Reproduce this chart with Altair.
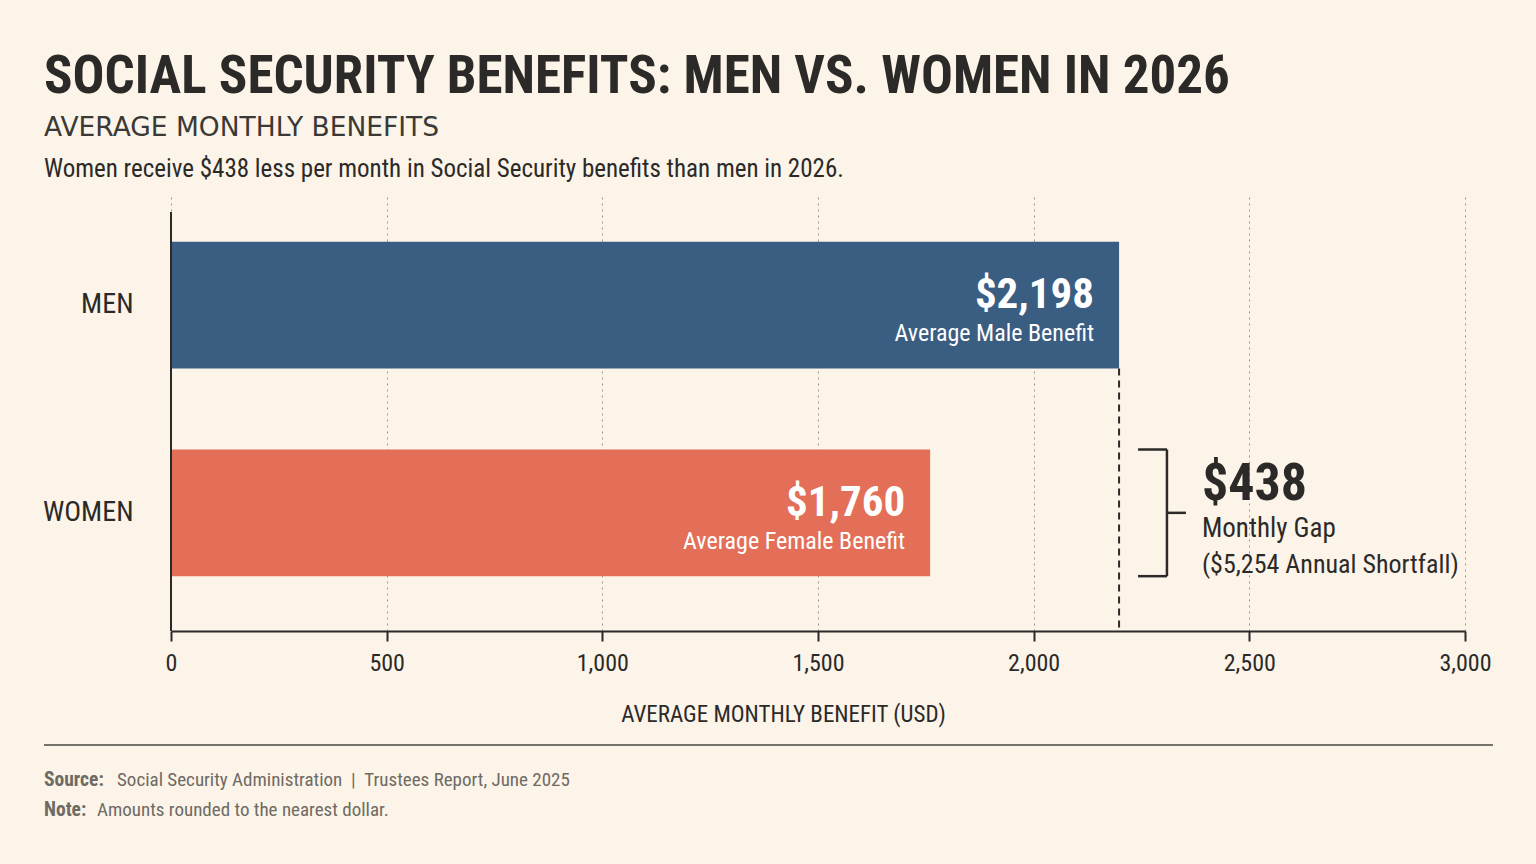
import altair as alt
import pandas as pd

# ---- data ----
categories = ["MEN", "WOMEN"]
values = [2198, 1760]
value_labels = ["$2,198", "$1,760"]
sub_labels = ["Average Male Benefit", "Average Female Benefit"]
bar_colors = ["#3a5d82", "#e36f58"]
x_ticks = [0, 500, 1000, 1500, 2000, 2500, 3000]

gap_value = "$438"
gap_line1 = "Monthly Gap"
gap_line2 = "($5,254 Annual Shortfall)"

title_text = "SOCIAL SECURITY BENEFITS: MEN VS. WOMEN IN 2026"
subtitle_text = "AVERAGE MONTHLY BENEFITS"
desc_text = "Women receive $438 less per month in Social Security benefits than men in 2026."
source_lbl = "Source:"
source_txt = "Social Security Administration\u00a0\u00a0|\u00a0\u00a0Trustees Report, June 2025"
note_lbl = "Note:"
note_txt = "Amounts rounded to the nearest dollar."

# ---- style ----
FONT = "Liberation Sans Narrow, Roboto Condensed, DejaVu Sans Condensed, sans-serif"
BG = "#fcf4e8"
DARK = "#2b2a28"
GREY = "#6e6a64"
W, H = 1294, 434
LEFT, TOP = 171, 197

df = pd.DataFrame({
    "cat": categories,
    "val": values,
    "vlabel": value_labels,
    "slabel": sub_labels,
    "color": bar_colors,
})

x_scale = alt.Scale(domain=[0, 3000], nice=False)
y_scale = alt.Scale(domain=categories, paddingInner=0.39, paddingOuter=0.24, align=0.45)

base = alt.Chart(df)

bars = base.mark_bar().encode(
    x=alt.X("val:Q", scale=x_scale,
            axis=alt.Axis(values=x_ticks, format=",d", grid=True, gridDash=[2, 4],
                          gridColor="#9c968c", gridWidth=1, domainColor=DARK, domainWidth=2,
                          tickColor=DARK, tickWidth=2, tickSize=10, labelPadding=10,
                          labelFontSize=24, labelColor=DARK, labelFont=FONT,
                          title="AVERAGE MONTHLY BENEFIT (USD)", titleFont=FONT,
                          titleFontSize=23, titleFontWeight="normal", titleColor=DARK,
                          titleX=612, titleY=72, titleBaseline="top", titleAnchor="start",
                          titleAlign="center", labelFlush=False)),
    y=alt.Y("cat:N", scale=y_scale,
            axis=alt.Axis(title=None, ticks=False, domain=False, labelPadding=38,
                          labelFontSize=28, labelFont=FONT, labelColor=DARK,
                          labelFontWeight="normal")),
    color=alt.Color("color:N", scale=None),
)

y_line = alt.Chart(pd.DataFrame({"a": [0]})).mark_rule(color=DARK, strokeWidth=2).encode(
    x=alt.value(0), y=alt.value(15), y2=alt.value(H)
)

big_lbl = base.mark_text(align="right", baseline="alphabetic", dx=-25, dy=3,
                         fontSize=43, fontWeight="bold", font=FONT, color="white").encode(
    x=alt.X("val:Q", scale=x_scale), y=alt.Y("cat:N", scale=y_scale), text="vlabel:N")
small_lbl = base.mark_text(align="right", baseline="alphabetic", dx=-25, dy=36,
                           fontSize=24, font=FONT, color="white").encode(
    x=alt.X("val:Q", scale=x_scale), y=alt.Y("cat:N", scale=y_scale), text="slabel:N")

men_val = values[0]
men_df = pd.DataFrame({"cat": ["MEN"], "x": [men_val]})
dash = alt.Chart(men_df).mark_rule(color=DARK, strokeWidth=2, strokeDash=[7, 5]).encode(
    x=alt.X("x:Q", scale=x_scale),
    y=alt.Y("cat:N", scale=y_scale, bandPosition=1),
    y2=alt.value(H),
)

# bracket beside the women's bar
bdf = pd.DataFrame({"cat": ["WOMEN"], "x0": [men_val + 44], "x1": [men_val + 111],
                    "x2": [men_val + 155], "tx": [men_val + 192]})
bk = alt.Chart(bdf)
b_top = bk.mark_rule(color=DARK, strokeWidth=2.5).encode(
    x=alt.X("x0:Q", scale=x_scale), x2="x1:Q",
    y=alt.Y("cat:N", scale=y_scale, bandPosition=0))
b_bot = bk.mark_rule(color=DARK, strokeWidth=2.5).encode(
    x=alt.X("x0:Q", scale=x_scale), x2="x1:Q",
    y=alt.Y("cat:N", scale=y_scale, bandPosition=1))
b_mid = bk.mark_rule(color=DARK, strokeWidth=2.5).encode(
    x=alt.X("x1:Q", scale=x_scale), x2="x2:Q",
    y=alt.Y("cat:N", scale=y_scale, bandPosition=0.5))
b_vert = bk.mark_bar(color=DARK).encode(
    x=alt.X("x1:Q", scale=x_scale), x2="x1:Q",
    y=alt.Y("cat:N", scale=y_scale), stroke=alt.value(DARK), strokeWidth=alt.value(2.5))

g1 = bk.mark_text(align="left", baseline="alphabetic", dy=-13, fontSize=52,
                  fontWeight="bold", font=FONT, color=DARK).encode(
    x=alt.X("tx:Q", scale=x_scale), y=alt.Y("cat:N", scale=y_scale), text=alt.value(gap_value))
g2 = bk.mark_text(align="left", baseline="alphabetic", dy=24, fontSize=27,
                  font=FONT, color=DARK).encode(
    x=alt.X("tx:Q", scale=x_scale), y=alt.Y("cat:N", scale=y_scale), text=alt.value(gap_line1))
g3 = bk.mark_text(align="left", baseline="alphabetic", dy=60, fontSize=26,
                  font=FONT, color=DARK).encode(
    x=alt.X("tx:Q", scale=x_scale), y=alt.Y("cat:N", scale=y_scale), text=alt.value(gap_line2))


def txt(s, x, y, size, weight="normal", color=DARK, font=FONT):
    return alt.Chart(pd.DataFrame({"t": [s]})).mark_text(
        align="left", baseline="alphabetic", fontSize=size, fontWeight=weight,
        font=font, color=color).encode(x=alt.value(x), y=alt.value(y), text="t:N")


title = txt(title_text, 44 - LEFT, 93 - TOP, 53, "bold")
subtitle = txt(subtitle_text, 44 - LEFT, 136 - TOP, 26.5, "normal", "#3a3936",
               "DejaVu Sans, sans-serif")
desc = txt(desc_text, 44 - LEFT, 177 - TOP, 25)
src1 = txt(source_lbl, 44 - LEFT, 786 - TOP, 19.5, "bold", GREY)
src2 = txt(source_txt, 117 - LEFT, 786 - TOP, 19, "normal", GREY)
note1 = txt(note_lbl, 44 - LEFT, 816 - TOP, 19.5, "bold", GREY)
note2 = txt(note_txt, 97 - LEFT, 816 - TOP, 19, "normal", GREY)

sep = alt.Chart(pd.DataFrame({"a": [0]})).mark_rule(color="#4a4844", strokeWidth=1.5).encode(
    x=alt.value(44 - LEFT), x2=alt.value(1493 - LEFT), y=alt.value(745 - TOP))

chart = alt.layer(
    bars, y_line, dash, b_top, b_bot, b_mid, b_vert, big_lbl, small_lbl, g1, g2, g3,
    title, subtitle, desc, sep, src1, src2, note1, note2
).properties(
    width=W, height=H,
    autosize=alt.AutoSizeParams(type="none"),
    padding={"left": LEFT, "top": TOP, "right": 1536 - LEFT - W, "bottom": 864 - TOP - H},
    background=BG,
).configure_view(stroke=None).configure_axisY(labelFontWeight="normal")

chart.save("out.html", embed_options={"renderer": "svg", "actions": False})
